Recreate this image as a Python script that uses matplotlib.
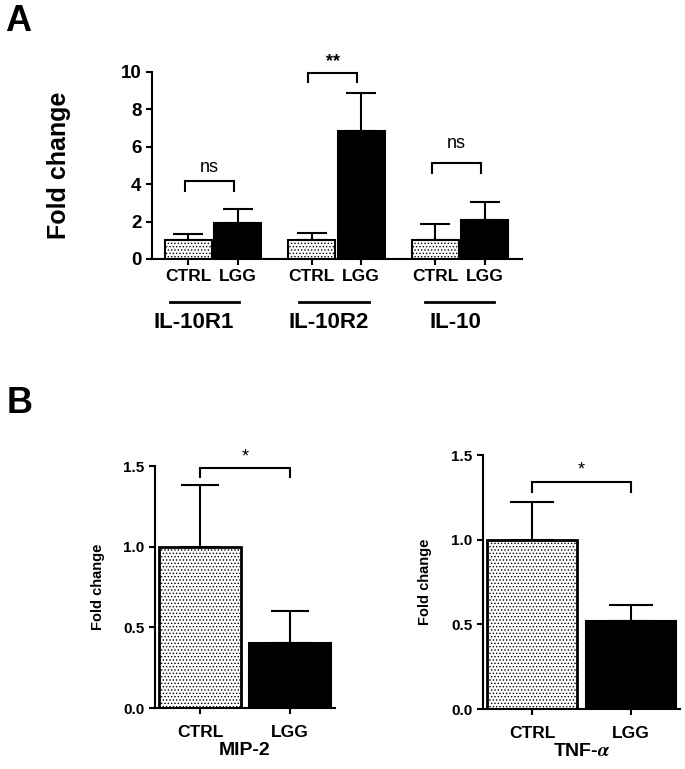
import matplotlib
matplotlib.use('Agg')
import matplotlib.pyplot as plt
import numpy as np

plt.rcParams['font.family'] = ['Liberation Sans', 'DejaVu Sans']
plt.rcParams['font.weight'] = 'bold'
plt.rcParams['axes.labelweight'] = 'bold'
plt.rcParams['mathtext.fontset'] = 'stix'
plt.rcParams['hatch.linewidth'] = 0.6

# panel A data
genes_a = ['IL-10R1', 'IL-10R2', 'IL-10']
ctrl_a = [1.0, 1.0, 1.0]
ctrl_a_err = [0.33, 0.38, 0.87]
lgg_a = [1.95, 6.84, 2.09]
lgg_a_err = [0.72, 2.04, 0.97]
sig_a = ['ns', '**', 'ns']
bracket_a = [4.15, 9.95, 5.15]

# panel B data
groups_b = ['CTRL', 'LGG']
mip2 = [1.0, 0.40]
mip2_err = [0.38, 0.20]
tnf = [1.0, 0.52]
tnf_err = [0.22, 0.095]
bracket_b = [1.486, 1.339]

fig = plt.figure(figsize=(6.85, 7.69), dpi=100)


def style_axes(ax, lw=1.5):
    for s in ['top', 'right']:
        ax.spines[s].set_visible(False)
    for s in ['left', 'bottom']:
        ax.spines[s].set_linewidth(lw)
    ax.tick_params(width=lw, length=4, direction='out')


def bracket(ax, x0, x1, y, leg, text, ty, fs, weight='normal'):
    ax.plot([x0, x0, x1, x1], [y - leg, y, y, y - leg], color='black',
            lw=1.5, clip_on=False, solid_joinstyle='miter')
    ax.text((x0 + x1) / 2, ty, text, ha='center', va='center', fontsize=fs,
            fontweight=weight)


# ---- panel A ----
ax = fig.add_axes([0.2219, 0.6632, 0.540, 0.2432])
x = np.arange(len(genes_a))
w = 0.38
ax.bar(x - 0.2, ctrl_a, w, color='white', edgecolor='black', hatch='.....',
       linewidth=1.5)
ax.bar(x + 0.2, lgg_a, w, color='black', edgecolor='black', linewidth=1.5)
ax.errorbar(x - 0.2, ctrl_a, yerr=[np.zeros(3), ctrl_a_err], fmt='none',
            ecolor='black', elinewidth=1.5, capsize=11, capthick=1.5)
ax.errorbar(x + 0.2, lgg_a, yerr=[np.zeros(3), lgg_a_err], fmt='none',
            ecolor='black', elinewidth=1.5, capsize=11, capthick=1.5)
ax.set_xlim(-0.494, 2.502)
ax.set_ylim(0, 10)
ax.set_yticks([0, 2, 4, 6, 8, 10], ['0', '2', '4', '6', '8', '10'],
              fontsize=13.5, fontweight='bold')
ax.set_xticks(np.concatenate([x - 0.2, x + 0.2]),
              ['CTRL'] * 3 + ['LGG'] * 3, fontsize=12.5, fontweight='bold')
style_axes(ax)
ax.set_ylabel('Fold change', fontsize=18, labelpad=36)

legs = [0.5, 0.5, 0.55]
text_y = [4.9, 10.55, 6.2]
for i in range(3):
    bracket(ax, x[i] - 0.23, x[i] + 0.17, bracket_a[i], legs[i], sig_a[i],
            text_y[i], 13, 'bold' if sig_a[i] == '**' else 'normal')

trans = ax.get_xaxis_transform()
line_shift = [-0.07, -0.02, 0.0]
label_shift = [-0.16, -0.06, -0.04]
for i, g in enumerate(genes_a):
    c = x[i] + line_shift[i]
    ax.plot([c - 0.28, c + 0.28], [-0.23, -0.23], color='black', lw=2,
            transform=trans, clip_on=False)
    ax.text(x[i] + label_shift[i], -0.34, g, transform=trans, ha='center',
            va='center', fontsize=16)

fig.text(0.027, 0.972, 'A', fontsize=26, fontweight='bold', ha='center',
         va='center')
fig.text(0.028, 0.4753, 'B', fontsize=26, fontweight='bold', ha='center',
         va='center')


# ---- panel B ----
def panel_b(rect, vals, errs, label, by, capsize, pad):
    ax = fig.add_axes(rect)
    xb = np.arange(2)
    ax.bar(xb[0], vals[0], 0.91, color='white', edgecolor='black',
           hatch='.....', linewidth=2)
    ax.bar(xb[1], vals[1], 0.91, color='black', edgecolor='black',
           linewidth=1.5)
    ax.errorbar(xb, vals, yerr=[np.zeros(2), errs], fmt='none',
                ecolor='black', elinewidth=1.5, capsize=capsize, capthick=1.5)
    ax.set_xlim(-0.5, 1.5)
    ax.set_ylim(0, 1.5)
    ax.set_yticks([0.0, 0.5, 1.0, 1.5], ['0.0', '0.5', '1.0', '1.5'],
                  fontsize=11, fontweight='bold')
    ax.set_xticks(xb, groups_b, fontsize=12.5, fontweight='bold')
    ax.tick_params(axis='x', pad=8)
    style_axes(ax)
    ax.set_ylabel('Fold change', fontsize=10.5, labelpad=pad)
    ax.set_xlabel(label, fontsize=14, labelpad=2)
    bracket(ax, 0.0, 1.0, by, 0.055, '*', by + 0.07, 13)
    return ax


panel_b([0.2263, 0.0793, 0.2627, 0.3147], mip2, mip2_err, 'MIP-2',
        bracket_b[0], 14, 13)
panel_b([0.7047, 0.078, 0.288, 0.3303], tnf, tnf_err, r'TNF-$\alpha$',
        bracket_b[1], 16, 14)

fig.savefig('out.png', dpi=100)
